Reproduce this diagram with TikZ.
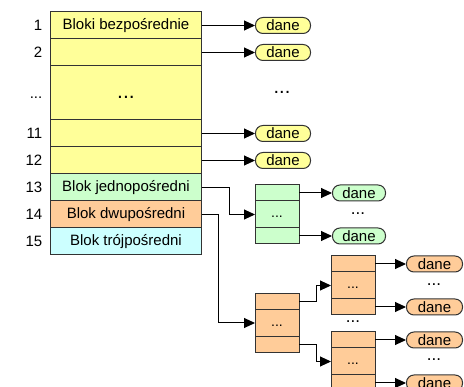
\documentclass[tikz,border=0pt]{standalone}
\usepackage{fontspec}
\setmainfont{Liberation Sans}
\usepackage{tikz}
\usetikzlibrary{positioning,arrows.meta}
\definecolor{blkyellow}{HTML}{FFFF99}
\definecolor{blkgreen}{HTML}{CCFFCC}
\definecolor{blkorange}{HTML}{FFCC99}
\definecolor{blkcyan}{HTML}{CCFFFF}
\definecolor{edge}{HTML}{333333}
\tikzstyle{row} = [rectangle, draw=edge, line width=1pt, minimum width=151pt, minimum height=27pt, inner sep=0pt, outer sep=0pt, font=\fontsize{15}{18}\selectfont]
\tikzstyle{num} = [inner sep=0pt, font=\fontsize{15}{18}\selectfont]
\tikzstyle{cell} = [rectangle, draw=edge, line width=1pt, minimum width=44pt, minimum height=16pt, inner sep=0pt, outer sep=0pt, font=\fontsize{14}{16}\selectfont]
\tikzstyle{pill} = [rectangle, draw=edge, line width=1pt, rounded corners=7.5pt, minimum height=16pt, inner sep=0pt, font=\fontsize{15}{18}\selectfont]
\tikzstyle{link} = [draw=black, line width=1pt, -{Triangle[length=11pt,width=10pt]}]
\tikzstyle{dots} = [inner sep=0pt, anchor=base, font=\fontsize{17}{20}\selectfont]

\begin{document}
\begin{tikzpicture}[x=1pt, y=-1pt]
   \useasboundingbox (0,0) rectangle (464,387);
   \clip (0,0) rectangle (464,387);
   % main table
   \node[row, fill=blkyellow] (r1) at (126,25.5) {Bloki bezpośrednie};
   \node[row, fill=blkyellow] (r2)  [below=0pt of r1]  {};
   \node[row, fill=blkyellow, minimum height=54pt, font=\fontsize{21}{24}\selectfont] (rd) [below=0pt of r2] {\vphantom{Bp}...};
   \node[row, fill=blkyellow] (r11) [below=0pt of rd]  {};
   \node[row, fill=blkyellow] (r12) [below=0pt of r11] {};
   \node[row, fill=blkgreen]  (r13) [below=0pt of r12] {Blok jednopośredni};
   \node[row, fill=blkorange] (r14) [below=0pt of r13] {Blok dwupośredni};
   \node[row, fill=blkcyan]   (r15) [below=0pt of r14] {Blok trójpośredni};
   \node[num] (n1)  [left=8pt of r1]  {1};
   \node[num] (n2)  [left=8pt of r2]  {2};
   \node[num] (nd)  [left=8pt of rd]  {\vphantom{1}...};
   \node[num] (n11) [left=8pt of r11] {11};
   \node[num] (n12) [left=8pt of r12] {12};
   \node[num] (n13) [left=8pt of r13] {13};
   \node[num] (n14) [left=8pt of r14] {14};
   \node[num] (n15) [left=8pt of r15] {15};
   % direct data
   \node[pill, fill=blkyellow, minimum width=55pt] (d1)  [right=53.5pt of r1]  {dane};
   \node[pill, fill=blkyellow, minimum width=55pt] (d2)  [right=53.5pt of r2]  {dane};
   \node[pill, fill=blkyellow, minimum width=55pt] (d11) [right=53.5pt of r11] {dane};
   \node[pill, fill=blkyellow, minimum width=55pt] (d12) [right=53.5pt of r12] {dane};
   \node[dots, font=\fontsize{20}{24}\selectfont] (dd) at (282,94) {...};
   \draw[link] (r1) -- (d1);
   \draw[link] (r2) -- (d2);
   \draw[link] (r11) -- (d11);
   \draw[link] (r12) -- (d12);
   % single indirect
   \node[cell, fill=blkgreen] (g1t) at (277,193) {};
   \node[cell, fill=blkgreen, minimum height=27pt] (g1m) [below=0pt of g1t] {\vphantom{Bp}...};
   \node[cell, fill=blkgreen] (g1b) [below=0pt of g1m] {};
   \node[pill, fill=blkgreen, minimum width=53pt] (gd1) [right=33pt of g1t] {dane};
   \node[pill, fill=blkgreen, minimum width=53pt] (gd2) [right=33pt of g1b] {dane};
   \node[dots] (gdd) at (358,215) {...};
   \draw[link] (r13.east) -- ++(27.5,0) |- (g1m.west);
   \draw[link] (g1t) -- (gd1);
   \draw[link] (g1b) -- (gd2);
   % double indirect
   \node[cell, fill=blkorange] (o1t) at (277,301.5) {};
   \node[cell, fill=blkorange, minimum height=27pt] (o1m) [below=0pt of o1t] {\vphantom{Bp}...};
   \node[cell, fill=blkorange] (o1b) [below=0pt of o1m] {};
   \node[cell, fill=blkorange] (o2t) at (353,264) {};
   \node[cell, fill=blkorange, minimum height=27pt] (o2m) [below=0pt of o2t] {\vphantom{Bp}...};
   \node[cell, fill=blkorange] (o2b) [below=0pt of o2m] {};
   \node[cell, fill=blkorange] (o3t) at (353,340) {};
   \node[cell, fill=blkorange, minimum height=27pt] (o3m) [below=0pt of o3t] {\vphantom{Bp}...};
   \node[cell, fill=blkorange] (o3b) [below=0pt of o3m] {};
   \node[dots] (odd) at (353,323) {...};
   \node[pill, fill=blkorange, minimum width=56pt] (od1) [right=31pt of o2t] {dane};
   \node[pill, fill=blkorange, minimum width=56pt] (od2) [right=31pt of o2b] {dane};
   \node[pill, fill=blkorange, minimum width=56pt] (od3) [right=31pt of o3t] {dane};
   \node[pill, fill=blkorange, minimum width=56pt] (od4) [right=31pt of o3b] {dane};
   \node[dots] (odd1) at (434,286) {...};
   \node[dots] (odd2) at (434,361) {...};
   \draw[link] (r14.east) -- ++(16.5,0) |- (o1m.west);
   \draw[link] (o1t.east) -- ++(17,0) |- (o2m.west);
   \draw[link] (o1b.east) -- ++(17,0) |- (o3m.west);
   \draw[link] (o2t) -- (od1);
   \draw[link] (o2b) -- (od2);
   \draw[link] (o3t) -- (od3);
   \draw[link] (o3b) -- (od4);
\end{tikzpicture}
\end{document}
